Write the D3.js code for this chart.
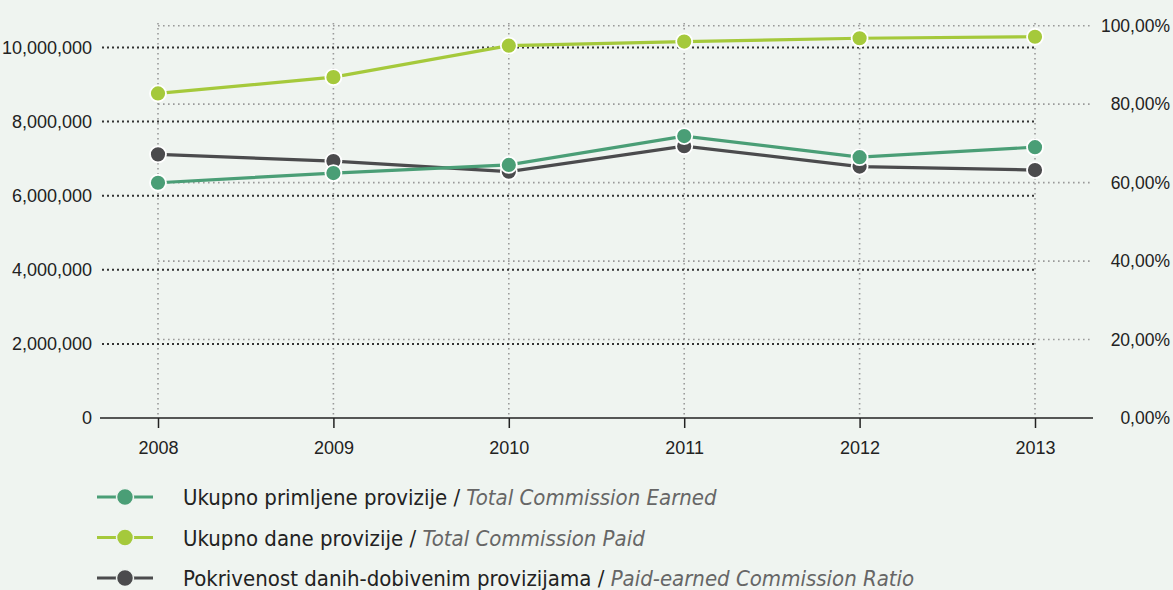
<!DOCTYPE html>
<html><head><meta charset="utf-8">
<script src="https://cdn.jsdelivr.net/npm/d3@7"></script>
<style>
html,body{margin:0;padding:0;background:#eff4f0;}
svg{display:block;font-family:"DejaVu Sans Condensed","Liberation Sans Narrow",sans-serif;}
</style></head>
<body>
<svg id="chart" width="1173" height="590"></svg>
<script>
const years = ["2008","2009","2010","2011","2012","2013"];
const commissionEarned = [6350000, 6610000, 6830000, 7610000, 7040000, 7310000];
const commissionPaid = [8760000, 9200000, 10050000, 10160000, 10250000, 10290000];
const paidEarnedRatio = [67.2, 65.5, 62.8, 69.3, 64.1, 63.2];
const leftTicks = [0, 2000000, 4000000, 6000000, 8000000, 10000000];
const rightTicks = [0, 20, 40, 60, 80, 100];
const legendLocal = ["Ukupno primljene provizije", "Ukupno dane provizije", "Pokrivenost danih-dobivenim provizijama"];
const legendEnglish = ["Total Commission Earned", "Total Commission Paid", "Paid-earned Commission Ratio"];

const colEarned = "#4a9e76", colPaid = "#a5c93b", colRatio = "#4b4b4d";
const svg = d3.select("#chart");

const x = d3.scalePoint().domain(years).range([158, 1035]);
const yL = d3.scaleLinear().domain([0, 10000000]).range([418, 47.5]);
const yR = d3.scaleLinear().domain([0, 100]).range([418, 25.7]);

// right-axis gridlines (light)
svg.append("g").selectAll("line").data(rightTicks.filter(d=>d>0)).join("line")
  .attr("x1", 158).attr("x2", 1093).attr("y1", d=>yR(d)).attr("y2", d=>yR(d))
  .attr("stroke", "#9a9a9a").attr("stroke-width", 1.6).attr("stroke-dasharray", "1.6,3.4");
// vertical gridlines
svg.append("g").selectAll("line").data(years).join("line")
  .attr("x1", d=>x(d)).attr("x2", d=>x(d)).attr("y1", 23).attr("y2", 418)
  .attr("stroke", "#9a9a9a").attr("stroke-width", 1.6).attr("stroke-dasharray", "1.6,3.4");
// left-axis gridlines (dark)
svg.append("g").selectAll("line").data(leftTicks.filter(d=>d>0)).join("line")
  .attr("x1", 102).attr("x2", 1035).attr("y1", d=>yL(d)).attr("y2", d=>yL(d))
  .attr("stroke", "#333").attr("stroke-width", 2).attr("stroke-dasharray", "2,3");

// baseline
svg.append("line").attr("x1", 100).attr("x2", 1093).attr("y1", yL(0)).attr("y2", yL(0))
  .attr("stroke", "#222").attr("stroke-width", 1.5);

// x axis
const xAxis = svg.append("g").attr("transform", `translate(0,${yL(0)})`)
  .call(d3.axisBottom(x).tickSize(10).tickPadding(13));
xAxis.select(".domain").remove();
xAxis.selectAll(".tick line").attr("stroke", "#222").attr("stroke-width", 1.5);
xAxis.selectAll("text").attr("font-size", 18).attr("fill", "#222").style("font-family", "inherit");

// left axis
const fmtL = d3.format(",");
const lAxis = svg.append("g").attr("transform", "translate(92,0)")
  .call(d3.axisLeft(yL).tickValues(leftTicks).tickFormat(fmtL).tickSize(0).tickPadding(0));
lAxis.select(".domain").remove();
lAxis.selectAll("text").attr("font-size", 18).attr("fill", "#222").style("font-family", "inherit");

// right axis
const fmtR = d => d3.format(".2f")(d).replace(".", ",") + "%";
const rAxis = svg.append("g").attr("transform", "translate(1170,0)")
  .call(d3.axisLeft(yR).tickValues(rightTicks).tickFormat(fmtR).tickSize(0).tickPadding(0));
rAxis.select(".domain").remove();
rAxis.selectAll("text").attr("font-size", 17.5).attr("fill", "#222").style("font-family", "inherit");

function series(vals, yScale, color) {
  const pts = years.map((yr, i) => [x(yr), yScale(vals[i])]);
  svg.append("path").attr("d", d3.line()(pts)).attr("fill", "none")
    .attr("stroke", color).attr("stroke-width", 3.2);
  svg.append("g").selectAll("circle").data(pts).join("circle")
    .attr("cx", d=>d[0]).attr("cy", d=>d[1]).attr("r", 8)
    .attr("fill", color).attr("stroke", "#fff").attr("stroke-width", 1.8);
}
series(paidEarnedRatio, yR, colRatio);
series(commissionEarned, yL, colEarned);
series(commissionPaid, yL, colPaid);

// legend
const legCols = [colEarned, colPaid, colRatio];
const leg = svg.append("g");
legendLocal.forEach((t, i) => {
  const cy = 497 + i * 40.5;
  leg.append("line").attr("x1", 97).attr("x2", 153).attr("y1", cy).attr("y2", cy)
    .attr("stroke", legCols[i]).attr("stroke-width", 3);
  leg.append("circle").attr("cx", 125).attr("cy", cy).attr("r", 8.5).attr("fill", legCols[i])
    .attr("stroke", "#eff4f0").attr("stroke-width", 1.5);
  const tx = leg.append("text").attr("x", 183).attr("y", cy + 8).attr("font-size", 22).attr("fill", "#222");
  tx.append("tspan").text(t + " / ");
  tx.append("tspan").attr("font-style", "italic").attr("fill", "#666").text(legendEnglish[i]);
});
</script>
</body></html>
